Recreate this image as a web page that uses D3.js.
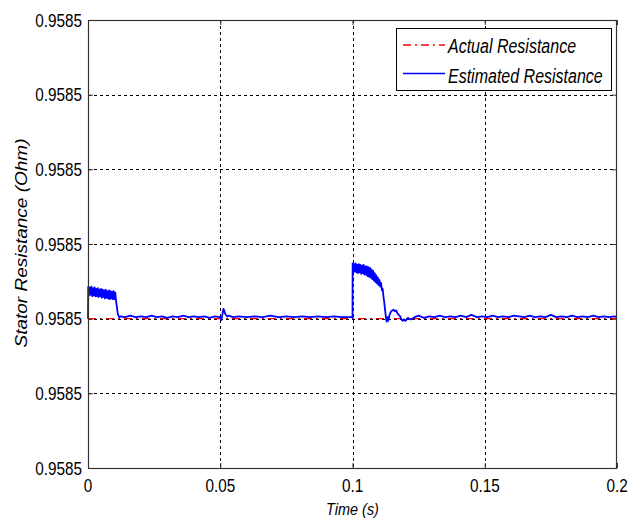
<!DOCTYPE html>
<html><head><meta charset="utf-8">
<script src="https://cdn.jsdelivr.net/npm/d3@7"></script>
<style>body{margin:0;background:#fff}svg{display:block}text{font-family:"Liberation Sans",Arial,sans-serif;fill:#000}</style>
</head><body><svg id="c" width="643" height="519"></svg>
<script>
// ---- data ----
const xTicks = [0, 0.05, 0.1, 0.15, 0.2];
const xTickLabels = ["0", "0.05", "0.1", "0.15", "0.2"];
const yTicks = [0.95848, 0.95849, 0.95850, 0.95851, 0.95852, 0.95853, 0.95854];
const yTickLabels = ["0.9585", "0.9585", "0.9585", "0.9585", "0.9585", "0.9585", "0.9585"];
const actualTime = [0, 0.2];
const actualValue = [0.95850, 0.95850];
const estTime = [
0.0000,0.0001,0.0004,0.0007,0.0010,0.0013,0.0016,0.0019,0.0022,0.0025,0.0028,0.0031,0.0034,0.0037,0.0040,0.0043,0.0046,0.0049,0.0052,0.0055,0.0058,0.0061,0.0064,0.0067,0.0070,0.0073,0.0076,0.0079,0.0082,0.0085,0.0088,0.0091,0.0094,0.0097,0.0100,0.0103,0.0106,
0.0109,0.0112,0.0115,0.0118,0.0122,
0.014,0.016,0.018,0.020,0.022,0.024,0.026,0.028,0.030,0.032,0.034,0.036,0.038,0.040,0.042,0.044,0.046,0.048,
0.0500,0.0504,0.0508,0.0512,0.0515,0.0518,0.0522,0.0526,0.0530,0.055,0.057,0.060,0.063,0.066,0.069,0.072,0.075,0.078,0.081,0.084,0.087,0.090,0.093,0.096,0.0999,
0.1000,0.10005,0.1003,0.1006,0.1009,0.1012,0.1015,0.1018,0.1021,0.1024,0.1027,0.1030,0.1033,0.1036,0.1039,0.1042,0.1045,0.1048,0.1051,0.1054,0.1057,0.1060,0.1063,0.1066,0.1069,0.1072,0.1075,0.1078,0.1081,0.1084,0.1087,0.1090,0.1093,0.1096,0.1099,0.1102,0.1105,0.1108,0.1111,0.1114,
0.1117,0.1120,0.1123,0.1126,0.1129,0.1132,0.1135,0.1140,0.1145,0.1150,0.1155,0.1160,0.1165,0.1170,0.1175,0.1180,0.1185,0.1190,0.1195,0.1200,0.1210,0.1220,0.1235,0.1250,0.1270,0.1290,
0.131,0.133,0.135,0.137,0.139,0.141,0.143,0.145,0.147,0.149,0.151,0.153,0.155,0.157,0.159,0.161,0.163,0.165,0.167,0.169,0.171,0.173,0.175,0.177,0.179,0.181,0.183,0.185,0.187,0.189,0.191,0.193,0.195,0.197,0.199,0.200];
const estValue = [
0.9585000,0.9585043,0.9585031,0.9585042,0.9585032,0.9585043,0.9585030,0.9585041,0.9585031,0.9585042,0.9585030,0.9585040,0.9585030,0.9585041,0.9585029,0.9585039,0.9585030,0.9585040,0.9585028,0.9585039,0.9585029,0.9585038,0.9585027,0.9585039,0.9585028,0.9585037,0.9585027,0.9585038,0.9585026,0.9585037,0.9585027,0.9585036,0.9585026,0.9585037,0.9585026,0.9585035,0.9585024,
0.9585016,0.9585008,0.9585004,0.9585002,0.9585003,
0.9585002,0.9585004,0.9585002,0.9585003,0.9585002,0.9585004,0.9585002,0.9585003,0.9585001,0.9585003,0.9585002,0.9585004,0.9585002,0.9585003,0.9585002,0.9585003,0.9585001,0.9585003,
0.9585002,0.9584998,0.9585005,0.9585013,0.9585011,0.9585007,0.9585005,0.9585003,0.9585004,0.9585002,0.9585003,0.9585002,0.9585003,0.9585002,0.9585004,0.9585002,0.9585003,0.9585002,0.9585003,0.9585002,0.9585003,0.9585002,0.9585003,0.9585002,0.9585002,
0.9585001,0.9585074,0.9585062,0.9585073,0.9585063,0.9585074,0.9585062,0.9585072,0.9585061,0.9585073,0.9585062,0.9585072,0.9585060,0.9585071,0.9585061,0.9585072,0.9585059,0.9585070,0.9585059,0.9585070,0.9585057,0.9585069,0.9585056,0.9585068,0.9585055,0.9585066,0.9585053,0.9585064,0.9585051,0.9585061,0.9585049,0.9585058,0.9585047,0.9585055,0.9585045,0.9585052,0.9585043,0.9585048,0.9585038,0.9585040,
0.9585030,0.9585022,0.9585012,0.9585003,0.9584996,0.9585002,0.9584997,0.9585005,0.9585009,0.9585011,0.9585012,0.9585010,0.9585011,0.9585007,0.9585005,0.9585003,0.9584999,0.9584997,0.9584999,0.9584997,0.9585001,0.9584999,0.9585002,0.9585004,0.9585001,0.9585003,
0.9585002,0.9585004,0.9585002,0.9585003,0.9585002,0.9585004,0.9585002,0.9585005,0.9585002,0.9585003,0.9585002,0.9585004,0.9585002,0.9585003,0.9585002,0.9585004,0.9585003,0.9585002,0.9585004,0.9585002,0.9585003,0.9585002,0.9585005,0.9585002,0.9585003,0.9585002,0.9585004,0.9585002,0.9585003,0.9585002,0.9585004,0.9585002,0.9585003,0.9585002,0.9585003,0.9585002];
const legendLabels = ["Actual Resistance", "Estimated Resistance"];
const xTitle = "Time (s)";
const yTitle = "Stator Resistance (Ohm)";

// ---- drawing ----
const svg = d3.select("#c");
svg.append("rect").attr("width",643).attr("height",519).attr("fill","#fff");
const L=88, R=617, T=20, B=468;
const x = d3.scaleLinear().domain([0,0.2]).range([L,R]);
const y = d3.scaleLinear().domain([0.95848,0.95854]).range([B,T]);

// grid
svg.append("g").selectAll("line").data(xTicks.slice(1,-1)).join("line")
  .attr("x1",d=>Math.round(x(d))+0.5).attr("x2",d=>Math.round(x(d))+0.5).attr("y1",T).attr("y2",B)
  .attr("stroke","#000").attr("stroke-width",1).attr("stroke-dasharray","3,3");
svg.append("g").selectAll("line").data(yTicks.slice(1,-1)).join("line")
  .attr("x1",L).attr("x2",R).attr("y1",d=>Math.round(y(d))+0.5).attr("y2",d=>Math.round(y(d))+0.5)
  .attr("stroke","#000").attr("stroke-width",1).attr("stroke-dasharray","3,3");

// ticks (inward, all sides)
const tk = 5;
svg.append("g").attr("transform",`translate(0,${B})`).call(d3.axisBottom(x).tickValues(xTicks).tickSize(-tk).tickFormat(""))
  .call(g=>{g.select(".domain").remove();g.selectAll("line").attr("stroke","#333");});
svg.append("g").attr("transform",`translate(0,${T})`).call(d3.axisTop(x).tickValues(xTicks).tickSize(-tk).tickFormat(""))
  .call(g=>{g.select(".domain").remove();g.selectAll("line").attr("stroke","#333");});
svg.append("g").attr("transform",`translate(${L},0)`).call(d3.axisLeft(y).tickValues(yTicks).tickSize(-tk).tickFormat(""))
  .call(g=>{g.select(".domain").remove();g.selectAll("line").attr("stroke","#333");});
svg.append("g").attr("transform",`translate(${R},0)`).call(d3.axisRight(y).tickValues(yTicks).tickSize(-tk).tickFormat(""))
  .call(g=>{g.select(".domain").remove();g.selectAll("line").attr("stroke","#333");});

// data lines
const pts = (ts,vs)=>ts.map((t,i)=>[t,vs[i]]);
const line = d3.line().x(d=>x(d[0])).y(d=>y(d[1]));
svg.append("path").attr("d",line(pts(actualTime,actualValue))).attr("fill","none")
  .attr("stroke","#ff0000").attr("stroke-width",1.4).attr("stroke-dasharray","8,4,2,4");
svg.append("path").attr("d",line(pts(estTime,estValue))).attr("fill","none")
  .attr("stroke","#0000ff").attr("stroke-width",1.8).attr("stroke-linejoin","round");

// frame
svg.append("rect").attr("x",L+0.5).attr("y",T+0.5).attr("width",R-L-1).attr("height",B-T)
  .attr("fill","none").attr("stroke","#333").attr("stroke-width",1.2);

function label(px,py,str,size,anchor,sx,italic){
  return svg.append("text").attr("transform",`translate(${px},${py}) scale(${sx},1)`)
    .attr("text-anchor",anchor).style("font-size",size+"px")
    .style("font-style",italic?"italic":"normal").text(str);
}
yTicks.forEach((v,i)=>label(82,y(v)+6.5,yTickLabels[i],18,"end",0.85,false));
xTicks.forEach((v,i)=>label(x(v),492,xTickLabels[i],18,"middle",0.85,false));
label((L+R)/2,515,xTitle,17,"middle",0.85,true);
svg.append("text").attr("transform",`translate(27,243) rotate(-90) scale(1,0.85)`)
  .attr("text-anchor","middle").style("font-size","19px").style("font-style","italic").text(yTitle);

// legend
const lg = svg.append("g");
lg.append("rect").attr("x",396.5).attr("y",28.5).attr("width",215).attr("height",62)
  .attr("fill","#fff").attr("stroke","#000").attr("stroke-width",1);
lg.append("line").attr("x1",403).attr("x2",445).attr("y1",45).attr("y2",45)
  .attr("stroke","#ff0000").attr("stroke-width",1.4).attr("stroke-dasharray","8,4,2,4");
lg.append("line").attr("x1",403).attr("x2",445).attr("y1",73.5).attr("y2",73.5)
  .attr("stroke","#0000ff").attr("stroke-width",1.4);
label(448,53,legendLabels[0],20,"start",0.8,true);
label(448,83,legendLabels[1],20,"start",0.8,true);
</script></body></html>
